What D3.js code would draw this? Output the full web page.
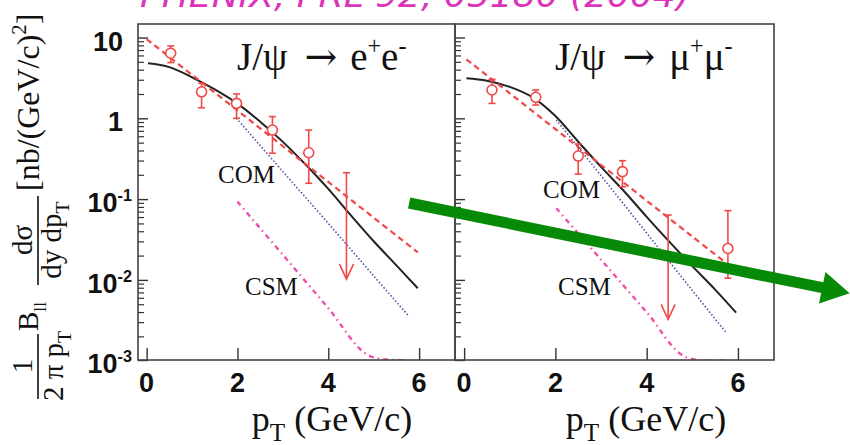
<!DOCTYPE html>
<html><head><meta charset="utf-8">
<script src="https://cdn.jsdelivr.net/npm/d3@7"></script>
<style>body{margin:0;background:#fff}</style>
</head><body>
<svg id="c" width="850" height="445"></svg>
<script>
// ---------------- data ----------------
const xTicks = [0, 2, 4, 6];
const yMajor = [10, 1, 0.1, 0.01, 0.001];
const yTickBase = ["10", "1", "10", "10", "10"];
const yTickExp = ["", "", "-1", "-2", "-3"];

// e+e- panel
const eePt   = [0.53, 1.21, 1.98, 2.77, 3.57];
const eeVal  = [6.4, 2.13, 1.53, 0.716, 0.375];
const eeHi   = [7.86, 2.71, 2.0, 1.05, 0.716];
const eeLo   = [4.9, 1.35, 1.0, 0.37, 0.157];
const eeLimPt = [4.40], eeLimTop = [0.212], eeLimTip = [0.0102];
const eeTotPt  = [0.03, 0.5, 1, 1.5, 2, 2.5, 3, 3.5, 4, 4.5, 5, 5.5, 5.97];
const eeTot    = [4.79, 4.30, 3.22, 2.28, 1.52, 0.908, 0.511, 0.268, 0.134, 0.0628, 0.0301, 0.0151, 0.00787];
const eeFitPt  = [0, 1, 2, 3, 4, 5, 5.97];
const eeFit    = [9.55, 3.45, 1.25, 0.451, 0.163, 0.0589, 0.0219];
const eeComPt  = [1.98, 3, 4, 5, 5.75];
const eeCom    = [1.0, 0.219, 0.0501, 0.0112, 0.00368];
const eeCsmPt  = [2.0, 3, 4, 4.88, 5.7];
const eeCsm    = [0.093, 0.0204, 0.00447, 0.00117, 0.00034];

// mu+mu- panel
const mmPt   = [0.61, 1.57, 2.50, 3.47, 5.78];
const mmVal  = [2.24, 1.82, 0.341, 0.219, 0.0245];
const mmHi   = [3.04, 2.24, 0.481, 0.299, 0.072];
const mmLo   = [1.53, 1.46, 0.204, 0.142, 0.0105];
const mmLimPt = [4.47], mmLimTop = [0.0635], mmLimTip = [0.00325];
const mmTotPt  = [0.05, 0.5, 1, 1.5, 2, 2.5, 3, 3.5, 4, 4.5, 5, 5.5, 5.96];
const mmTot    = [3.13, 2.92, 2.45, 1.82, 1.07, 0.513, 0.251, 0.126, 0.0603, 0.0295, 0.0148, 0.00759, 0.00393];
const mmFitPt  = [0.05, 1, 2, 3, 4, 5, 5.72];
const mmFit    = [5.37, 2.04, 0.735, 0.265, 0.0955, 0.0344, 0.0165];
const mmComPt  = [2.02, 3, 4, 5, 5.75];
const mmCom    = [0.955, 0.195, 0.038, 0.0074, 0.0022];
const mmCsmPt  = [2.02, 3, 4, 4.84, 5.75];
const mmCsm    = [0.0769, 0.0178, 0.00398, 0.00112, 0.00029];

// green annotation arrow (in e+e- panel coordinates)
const arrowFrom = [5.78, 0.0895];
const arrowTo   = [15.48, 0.00682];

const headline = "PHENIX, PRL 92, 05180 (2004)";
const labelCOM = "COM", labelCSM = "CSM";

// ---------------- drawing ----------------
const svg = d3.select("#c");
const serif = "'Liberation Serif','Times New Roman',serif";
const sans = "'Liberation Sans',Arial,sans-serif";
const RED = "#f04848";

function rich(sel, parts, size, scale = 0.62) {
  let prev = 0;
  parts.forEach(p => {
    const shift = p.sup ? -size * 0.42 : p.sub ? size * 0.28 : 0;
    const t = sel.append("tspan").attr("dy", shift - prev)
      .attr("font-size", (p.sup || p.sub) ? size * scale : size).text(p.t);
    if (p.ff) t.attr("font-family", p.ff);
    if (p.dx) t.attr("dx", p.dx);
    prev = shift;
  });
  return sel;
}

const yScale = d3.scaleLog().domain([0.00102, 14.7]).range([360, 24]).clamp(true);
const yFree = d3.scaleLog().domain([0.00102, 14.7]).range([360, 24]);

const minor = [];
for (let e = -3; e <= 1; e++) for (let k = 2; k <= 9; k++) {
  const v = k * Math.pow(10, e);
  if (v < 14.7) minor.push(v);
}

const ARW = "'DejaVu Serif',serif";
const panels = [
  { x0: 138, x1: 455, dom: [-0.19, 6.79], pt: eePt, val: eeVal, hi: eeHi, lo: eeLo,
    limPt: eeLimPt, limTop: eeLimTop, limTip: eeLimTip,
    curves: [[eeTotPt, eeTot, "tot"], [eeFitPt, eeFit, "fit"], [eeComPt, eeCom, "com"], [eeCsmPt, eeCsm, "csm"]],
    title: [{t: "J/ψ"}, {t: "→", ff: ARW, dx: 17}, {t: "e", dx: 13}, {t: "+", sup: 1}, {t: "e"}, {t: "-", sup: 1}], tx: 237,
    com: [218, 183], csm: [245, 295], xlab: 332 },
  { x0: 455, x1: 774, dom: [-0.2, 6.79], pt: mmPt, val: mmVal, hi: mmHi, lo: mmLo,
    limPt: mmLimPt, limTop: mmLimTop, limTip: mmLimTip,
    curves: [[mmTotPt, mmTot, "tot"], [mmFitPt, mmFit, "fit"], [mmComPt, mmCom, "com"], [mmCsmPt, mmCsm, "csm"]],
    title: [{t: "J/ψ"}, {t: "→", ff: ARW, dx: 17}, {t: "μ", dx: 14}, {t: "+", sup: 1}, {t: "μ"}, {t: "-", sup: 1}], tx: 555,
    com: [543, 198], csm: [558, 295], xlab: 646 }
];

const styles = {
  tot: { stroke: "#222", width: 2, dash: null },
  fit: { stroke: "#f04848", width: 2.2, dash: "6,4" },
  com: { stroke: "#5050a8", width: 1.6, dash: "1.5,2" },
  csm: { stroke: "#f050a8", width: 2.4, dash: "5,4,1.5,4" }
};

const defs = svg.append("defs");

panels.forEach((p, i) => {
  const x = d3.scaleLinear().domain(p.dom).range([p.x0, p.x1]);
  p.x = x;
  const g = svg.append("g");
  defs.append("clipPath").attr("id", "clip" + i).append("rect")
    .attr("x", p.x0).attr("y", 24).attr("width", p.x1 - p.x0).attr("height", 336);

  // axes ticks
  g.append("g").attr("transform", `translate(${p.x0},0)`)
    .call(d3.axisRight(yScale).tickValues(yMajor).tickSize(10).tickFormat(""))
    .call(s => s.select(".domain").remove())
    .call(s => s.selectAll("line").attr("stroke", "#333").attr("stroke-width", 1.4));
  g.append("g").attr("transform", `translate(${p.x0},0)`)
    .call(d3.axisRight(yScale).tickValues(minor).tickSize(6).tickFormat(""))
    .call(s => s.select(".domain").remove())
    .call(s => s.selectAll("line").attr("stroke", "#333").attr("stroke-width", 1.2));
  g.append("g").attr("transform", `translate(0,360)`)
    .call(d3.axisTop(x).tickValues(xTicks).tickSize(12).tickFormat(""))
    .call(s => s.select(".domain").remove())
    .call(s => s.selectAll("line").attr("stroke", "#333").attr("stroke-width", 1.4));

  // x tick labels
  g.selectAll(".xl").data(xTicks).join("text")
    .attr("x", d => x(d)).attr("y", 392).attr("text-anchor", "middle")
    .attr("font-family", sans).attr("font-weight", "bold").attr("font-size", 27)
    .attr("fill", "#111").text(d => d);

  // curves
  const cg = g.append("g").attr("clip-path", `url(#clip${i})`);
  p.curves.forEach(([px, py, key]) => {
    const st = styles[key];
    const line = d3.line().x((d, j) => x(px[j])).y(d => yScale(d)).curve(d3.curveCatmullRom.alpha(0.5));
    cg.append("path").attr("d", line(py)).attr("fill", "none")
      .attr("stroke", st.stroke).attr("stroke-width", st.width)
      .attr("stroke-dasharray", st.dash);
  });

  // error bars
  const eg = g.append("g").attr("stroke", RED).attr("stroke-width", 1.6).attr("fill", "none");
  p.pt.forEach((v, j) => {
    const cx = x(v);
    eg.append("line").attr("x1", cx).attr("x2", cx).attr("y1", yScale(p.hi[j])).attr("y2", yScale(p.lo[j]));
    eg.append("line").attr("x1", cx - 3.5).attr("x2", cx + 3.5).attr("y1", yScale(p.hi[j])).attr("y2", yScale(p.hi[j]));
    eg.append("line").attr("x1", cx - 3.5).attr("x2", cx + 3.5).attr("y1", yScale(p.lo[j])).attr("y2", yScale(p.lo[j]));
    eg.append("circle").attr("cx", cx).attr("cy", yScale(p.val[j])).attr("r", 5).attr("fill", "#fff");
  });
  p.limPt.forEach((v, j) => {
    const cx = x(v), yt = yScale(p.limTop[j]), yb = yScale(p.limTip[j]);
    eg.append("line").attr("x1", cx).attr("x2", cx).attr("y1", yt).attr("y2", yb);
    eg.append("line").attr("x1", cx - 3.5).attr("x2", cx + 3.5).attr("y1", yt).attr("y2", yt);
    eg.append("path").attr("d", `M${cx - 7},${yb - 15}L${cx},${yb}L${cx + 7},${yb - 15}`);
  });

  // frame
  g.append("rect").attr("x", p.x0).attr("y", 24).attr("width", p.x1 - p.x0).attr("height", 336)
    .attr("fill", "none").attr("stroke", "#444").attr("stroke-width", 1.6);

  // titles and labels
  rich(g.append("text").attr("x", p.tx).attr("y", 70).attr("font-family", serif).attr("fill", "#111"), p.title, 39);
  g.append("text").attr("x", p.com[0]).attr("y", p.com[1]).attr("font-family", serif)
    .attr("font-size", 25).attr("fill", "#111").text(labelCOM);
  g.append("text").attr("x", p.csm[0]).attr("y", p.csm[1]).attr("font-family", serif)
    .attr("font-size", 25).attr("fill", "#111").text(labelCSM);
  rich(g.append("text").attr("x", p.xlab).attr("y", 431).attr("text-anchor", "middle")
    .attr("font-family", serif).attr("fill", "#111"),
    [{t: "p"}, {t: "T", sub: 1}, {t: " (GeV/c)"}], 36, 0.7);
});

// y tick labels
yMajor.forEach((v, j) => {
  const yy = yScale(v) + 13;
  if (yTickExp[j]) {
    rich(svg.append("text").attr("x", 132).attr("y", yy).attr("text-anchor", "end")
      .attr("font-family", sans).attr("font-weight", "bold").attr("fill", "#111"),
      [{t: yTickBase[j]}, {t: yTickExp[j], sup: 1}], 27, 0.6);
  } else {
    svg.append("text").attr("x", 123).attr("y", yy).attr("text-anchor", "end")
      .attr("font-family", sans).attr("font-weight", "bold").attr("font-size", 27)
      .attr("fill", "#111").text(yTickBase[j]);
  }
});

// y axis title (rotated)
const yl = svg.append("g").attr("transform", "translate(39,0) rotate(-90)")
  .attr("font-family", serif).attr("fill", "#111");
const fs = 29;
// 1 / (2 pi pT)
yl.append("line").attr("x1", -399).attr("x2", -334).attr("y1", -1).attr("y2", -1).attr("stroke", "#111").attr("stroke-width", 1.6);
yl.append("text").attr("x", -366).attr("y", -7).attr("text-anchor", "middle").attr("font-size", fs).text("1");
rich(yl.append("text").attr("x", -366).attr("y", 24).attr("text-anchor", "middle"),
  [{t: "2 π p"}, {t: "T", sub: 1}], fs, 0.68);
// B_ll
rich(yl.append("text").attr("x", -331).attr("y", -1), [{t: "B"}, {t: "ll", sub: 1}], fs, 0.6);
// d sigma / dy dpT
yl.append("line").attr("x1", -285).attr("x2", -196).attr("y1", -1).attr("y2", -1).attr("stroke", "#111").attr("stroke-width", 1.6);
yl.append("text").attr("x", -240).attr("y", -7).attr("text-anchor", "middle").attr("font-size", fs).text("dσ");
rich(yl.append("text").attr("x", -240).attr("y", 22).attr("text-anchor", "middle"),
  [{t: "dy dp"}, {t: "T", sub: 1}], fs, 0.68);
// units
rich(yl.append("text").attr("x", -191).attr("y", 0),
  [{t: "[nb/(GeV/c)"}, {t: "2", sup: 1}, {t: "]"}], 32, 0.65);

// headline
svg.append("text").attr("x", 140).attr("y", 7).attr("font-family", "'DejaVu Sans',sans-serif")
  .attr("font-style", "italic").attr("font-size", 34).attr("fill", "#dd33bb")
  .attr("textLength", 550).attr("lengthAdjust", "spacingAndGlyphs").text(headline);

// green arrow annotation
(function () {
  const xs = panels[0].x;
  const x1 = xs(arrowFrom[0]), y1 = yFree(arrowFrom[1]);
  const x2 = xs(arrowTo[0]), y2 = yFree(arrowTo[1]);
  const ang = Math.atan2(y2 - y1, x2 - x1), L = Math.hypot(x2 - x1, y2 - y1);
  const w = 5.5, hl = 28, hw = 16;
  const pts = [[0, -w], [L - hl, -w], [L - hl, -hw], [L, 0], [L - hl, hw], [L - hl, w], [0, w]];
  svg.append("polygon")
    .attr("points", pts.map(d => d.join(",")).join(" "))
    .attr("transform", `translate(${x1},${y1}) rotate(${ang * 180 / Math.PI})`)
    .attr("fill", "#078a07");
})();
</script>
</body></html>
